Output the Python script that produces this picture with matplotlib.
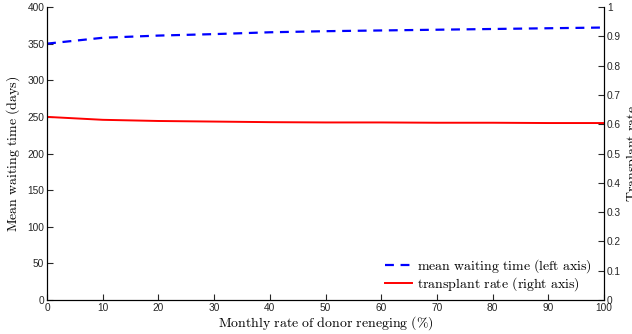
import matplotlib
matplotlib.use("Agg")
import matplotlib.pyplot as plt

plt.rcParams['mathtext.fontset'] = 'cm'
plt.rcParams['font.family'] = ['Liberation Sans', 'DejaVu Sans']

reneging_rate = [0, 10, 20, 30, 40, 50, 60, 70, 80, 90, 100]
mean_wait = [350, 358, 361, 363, 365.5, 367, 368, 369, 370, 371, 372]
transplant_rate = [0.625, 0.615, 0.611, 0.609, 0.607, 0.606, 0.606, 0.605, 0.605, 0.604, 0.604]

fig = plt.figure(figsize=(6.32, 3.34), dpi=100)
ax = fig.add_axes([0.0744, 0.1018, 0.8813, 0.8772])
ax2 = ax.twinx()

l1, = ax.plot(reneging_rate, mean_wait, color='blue', ls=(0, (4, 3)), lw=1.6,
              label=r'$\mathrm{mean\ waiting\ time\ (left\ axis)}$')
l2, = ax2.plot(reneging_rate, transplant_rate, color='red', lw=1.4,
               label=r'$\mathrm{transplant\ rate\ (right\ axis)}$')

ax.set_xlim(0, 100)
ax.set_ylim(0, 400)
ax2.set_ylim(0, 1)
ax.set_xticks(range(0, 101, 10))
ax.set_yticks(range(0, 401, 50))
ax2.set_yticks([i / 10 for i in range(11)])
ax2.set_yticklabels(['0', '0.1', '0.2', '0.3', '0.4', '0.5', '0.6', '0.7', '0.8', '0.9', '1'])

for a in (ax, ax2):
    a.spines['top'].set_visible(False)
    a.tick_params(direction='in', length=4, width=0.8, labelsize=7.3, colors='#262626', pad=2)
ax.tick_params(axis='x', top=False)

ax.set_xlabel(r'$\mathrm{Monthly\ rate\ of\ donor\ reneging\ (\%)}$', fontsize=10, labelpad=1)
ax.set_ylabel(r'$\mathrm{Mean\ waiting\ time\ (days)}$', fontsize=10, labelpad=4)
ax2.set_ylabel(r'$\mathrm{Transplant\ rate}$', fontsize=10, labelpad=2)

ax.legend(handles=[l1, l2], loc='lower right', frameon=False, fontsize=10,
          handlelength=2.0, handletextpad=0.3, borderaxespad=0.1, labelspacing=0.0,
          bbox_to_anchor=(0.99, 0.0))

fig.savefig('out.png', dpi=100)
